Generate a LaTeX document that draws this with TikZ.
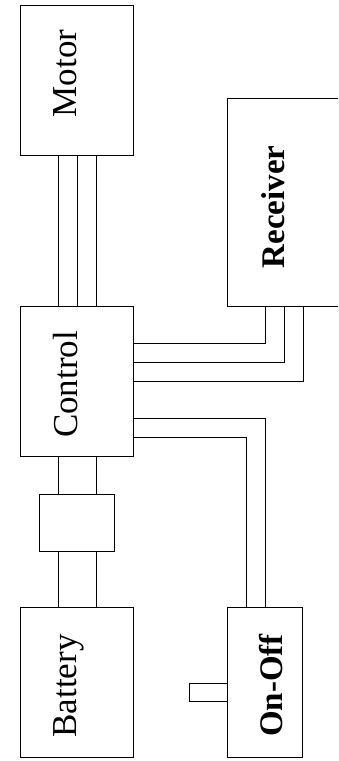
\documentclass[tikz,border=0pt]{standalone}
\usepackage{fontspec}
\setmainfont{Liberation Serif}
\begin{document}
\begin{tikzpicture}[x=1pt,y=-1pt,
  box/.style={draw, line width=0.9pt, anchor=north west, inner sep=0pt, outer sep=0pt},
  wire/.style={draw, line width=0.9pt},
  lbl/.style={rotate=90, inner sep=0pt, text height=23pt, text depth=0pt, font=\fontsize{35}{35}\selectfont},
  blbl/.style={lbl, text height=22.3pt, font=\fontsize{33}{33}\selectfont\bfseries}]
\useasboundingbox (0,0) rectangle (338,761);
\clip (0,0) rectangle (338,761);
% boxes
\node[box, minimum width=113pt, minimum height=150pt] (motor) at (20,5) {};
\node[box, minimum width=113pt, minimum height=150pt] (control) at (20,306) {};
\node[box, minimum width=75pt, minimum height=57pt] (fuse) at (39,494) {};
\node[box, minimum width=113pt, minimum height=150pt] (battery) at (20,607) {};
\node[box, minimum width=114pt, minimum height=208pt] (receiver) at (227,98) {};
\node[box, minimum width=75pt, minimum height=150pt] (onoff) at (227,607) {};
\node[box, minimum width=38pt, minimum height=18pt] (switch) at (189,683) {};
% labels
\node[lbl] (motorl) at (65,73.5) {Motor};
\node[lbl] (controll) at (66,384.5) {Control};
\node[lbl] (batteryl) at (65,686) {Battery};
\node[blbl] (receiverl) at (273.5,207) {Receiver};
\node[blbl] (onoffl) at (271,685.5) {On-Off};
% motor - control
\foreach \d in {-18.5,0.5,19.5}
  \draw[wire] ([xshift=\d pt]motor.south) -- ([xshift=\d pt]control.north);
% control - fuse - battery
\foreach \d in {-18.5,19.5}{
  \draw[wire] ([xshift=\d pt]control.south) -- ([xshift=\d pt]fuse.north);
  \draw[wire] ([xshift=\d pt]fuse.south) -- ([xshift=\d pt]battery.north);
}
% control - receiver
\draw[wire] (control.east |- 0,343) -| (receiver.south -| 265,0);
\draw[wire] (control.east |- 0,362) -| (receiver.south -| 284,0);
\draw[wire] (control.east |- 0,381) -| (receiver.south -| 303,0);
% control - on/off
\draw[wire] (control.east |- 0,418) -| (onoff.north -| 265,0);
\draw[wire] (control.east |- 0,437) -| (onoff.north -| 246,0);
\end{tikzpicture}
\end{document}
